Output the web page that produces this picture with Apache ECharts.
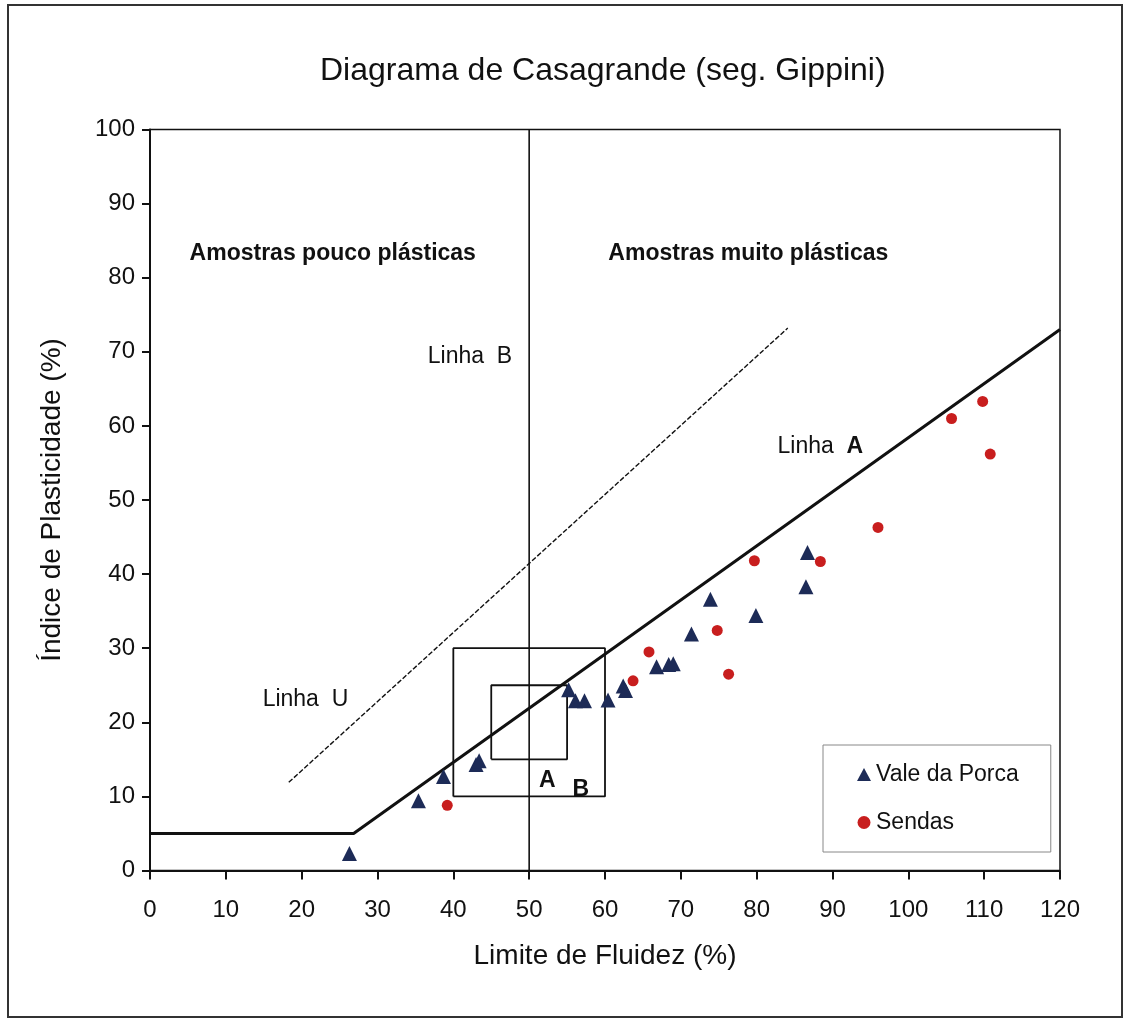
<!DOCTYPE html>
<html><head><meta charset="utf-8">
<script src="https://cdn.jsdelivr.net/npm/echarts@6/dist/echarts.min.js"></script>
<style>html,body{margin:0;padding:0;background:#fff}#c{width:1125px;height:1022px}</style>
</head><body><div id="c"></div>
<script>
var FONT = '"Liberation Sans", Arial, sans-serif';
var xTicks = [0,10,20,30,40,50,60,70,80,90,100,110,120];
var yTicks = [0,10,20,30,40,50,60,70,80,90,100];
var valePorca = [[26.3,2.3],[35.4,9.4],[38.7,12.7],[43.0,14.3],[43.4,14.8],[55.2,24.4],[56.1,22.9],[57.3,22.9],[60.4,23.0],[62.4,24.9],[62.7,24.3],[66.8,27.5],[68.4,27.8],[69.0,27.9],[71.4,31.9],[73.9,36.6],[79.9,34.4],[86.5,38.3],[86.7,42.9]];
var sendas = [[39.2,8.8],[63.7,25.6],[65.8,29.5],[74.8,32.4],[76.3,26.5],[79.7,41.8],[88.4,41.7],[96.0,46.3],[105.7,61.0],[109.8,63.3],[110.8,56.2]];
var linhaA = [[0,5],[26.85,5],[120,73]];
var linhaU = [[18.3,11.9],[84.1,73.2]];
var linhaB = [[50,0],[50,100]];
var boxA = [[45,15],[55,15],[55,25],[45,25],[45,15]];
var boxB = [[40,10],[60,10],[60,30],[40,30],[40,10]];
var notes = [
  {value:[24.1,83.3], text:'{b|Amostras pouco plásticas}'},
  {value:[78.9,83.3], text:'{b|Amostras muito plásticas}'},
  {value:[42.2,69.3], text:'Linha  B'},
  {value:[20.5,23.0], text:'Linha  U'},
  {value:[88.4,57.2], text:'Linha  {b|A}'},
  {value:[52.4,12.1], text:'{b|A}'},
  {value:[56.8,10.9], text:'{b|B}'}
];
function lineSeries(d, w, type){
  return {type:'line', data:d, symbol:'none', silent:true, animation:false, z:2,
    lineStyle:{color:'#111', width:w, type:type||'solid', opacity:1}};
}
var chart = echarts.init(document.getElementById('c'), null, {renderer:'canvas'});
chart.setOption({
  animation:false,
  backgroundColor:'#fff',
  textStyle:{fontFamily:FONT},
  title:{text:'Diagrama de Casagrande (seg. Gippini)', left:315, top:50,
    textStyle:{fontFamily:FONT, fontSize:32, fontWeight:'normal', color:'#111'}},
  grid:{left:150, right:65, top:129.5, bottom:151.5, show:true, borderColor:'#111', borderWidth:1.5},
  graphic:[{type:'rect', shape:{x:8,y:5,width:1114,height:1012}, style:{fill:null, stroke:'#333', lineWidth:2}, z:-1}],
  xAxis:{type:'value', min:0, max:120, interval:10, name:'Limite de Fluidez (%)', nameLocation:'middle', nameGap:72,
    nameTextStyle:{fontFamily:FONT, fontSize:28, color:'#111'},
    axisLine:{lineStyle:{color:'#111', width:2}}, axisTick:{inside:false, length:9, lineStyle:{color:'#111', width:2}},
    axisLabel:{fontFamily:FONT, fontSize:24, color:'#111', margin:28, formatter:function(v){return xTicks.indexOf(v)>=0?String(v):'';}},
    splitLine:{show:false}},
  yAxis:{type:'value', min:0, max:100, interval:10, name:'Índice de Plasticidade (%)', nameLocation:'middle', nameGap:84,
    nameTextStyle:{fontFamily:FONT, fontSize:28, color:'#111'},
    axisLine:{lineStyle:{color:'#111', width:2}}, axisTick:{inside:false, length:8, lineStyle:{color:'#111', width:2}},
    axisLabel:{fontFamily:FONT, fontSize:24, color:'#111', margin:15, formatter:function(v){return yTicks.indexOf(v)>=0?String(v):'';}},
    splitLine:{show:false}},
  legend:{data:[{name:'Vale da Porca', icon:'triangle'},{name:'Sendas', icon:'circle'}],
    orient:'vertical', left:823, top:745, borderColor:'#888', borderWidth:1,
    padding:[18,32,18,34], itemGap:25, itemWidth:14, itemHeight:13,
    textStyle:{fontFamily:FONT, fontSize:23, color:'#111', padding:[0,0,0,0]}},
  series:[
    lineSeries(linhaA, 3),
    lineSeries(linhaU, 1.4, [5,2]),
    lineSeries(linhaB, 1.6),
    lineSeries(boxB, 1.8),
    lineSeries(boxA, 1.8),
    {type:'scatter', name:'Vale da Porca', data:valePorca, symbol:'triangle', symbolSize:15, z:5,
      itemStyle:{color:'#1d2b57', opacity:1}},
    {type:'scatter', name:'Sendas', data:sendas, symbol:'circle', symbolSize:11, z:5,
      itemStyle:{color:'#c81e1e', opacity:1}},
    {type:'scatter', data:notes.map(function(n){return {value:n.value, label:{formatter:n.text}};}),
      symbolSize:0, silent:true, z:6, itemStyle:{opacity:1},
      label:{show:true, position:'inside', fontFamily:FONT, fontSize:23, color:'#111', textBorderWidth:0,
        rich:{b:{fontFamily:FONT, fontSize:23, fontWeight:'bold', color:'#111', textBorderWidth:0}}}}
  ]
});
</script></body></html>
